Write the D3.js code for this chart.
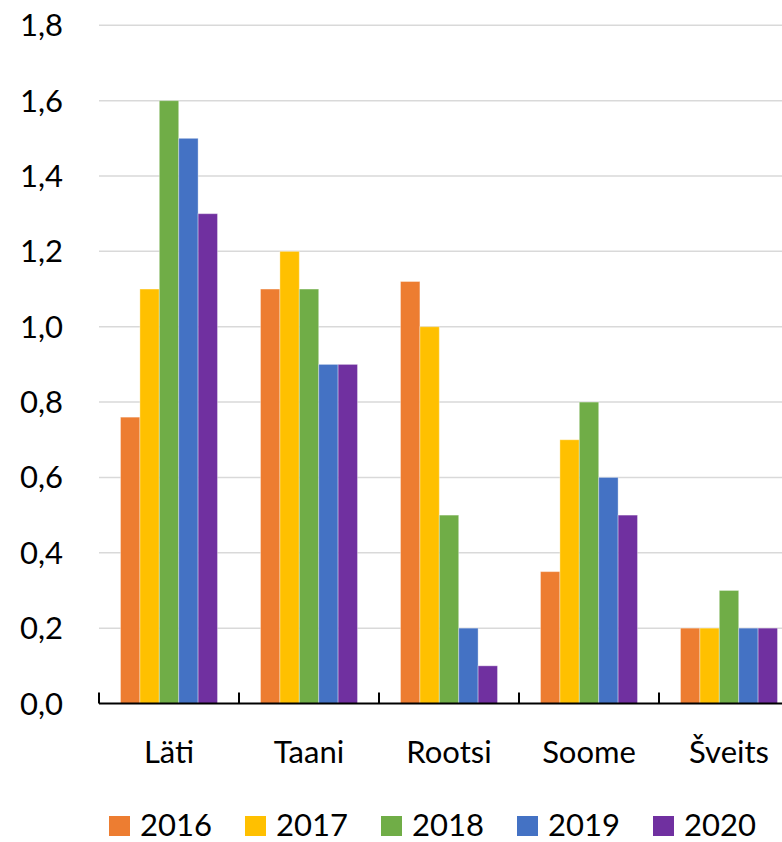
<!DOCTYPE html>
<html>
<head>
<meta charset="utf-8">
<script src="https://cdn.jsdelivr.net/npm/d3@7"></script>
<style>
  html, body { margin: 0; padding: 0; background: #fff; }
  svg { display: block; }
  text { font-family: Lato, "Open Sans", sans-serif; fill: #000; }
</style>
</head>
<body>
<svg id="chart" width="782" height="842"></svg>
<script>
const categories = ["Läti", "Taani", "Rootsi", "Soome", "Šveits"];
const years = ["2016", "2017", "2018", "2019", "2020"];
const values2016 = [0.76, 1.1, 1.12, 0.35, 0.2];
const values2017 = [1.1, 1.2, 1.0, 0.7, 0.2];
const values2018 = [1.6, 1.1, 0.5, 0.8, 0.3];
const values2019 = [1.5, 0.9, 0.2, 0.6, 0.2];
const values2020 = [1.3, 0.9, 0.1, 0.5, 0.2];
const yTicks = [0, 0.2, 0.4, 0.6, 0.8, 1.0, 1.2, 1.4, 1.6, 1.8];
const colors = ["#ED7D31", "#FFC000", "#70AD47", "#4472C4", "#7030A0"];

const seriesValues = [values2016, values2017, values2018, values2019, values2020];

(function () {
const svg = d3.select("#chart");
const mLeft = 99, mRight = 799, mTop = 25.3, mBottom = 703.5;

const x0 = d3.scaleBand().domain(categories).range([mLeft, mRight]).padding(0);
const x1 = d3.scaleBand().domain(years).range([21.5, 118.5]).padding(0);
const y = d3.scaleLinear().domain([0, 1.8]).range([mBottom, mTop]);

const fmt = v => d3.format(".1f")(v).replace(".", ",");

// gridlines
svg.append("g")
  .selectAll("line")
  .data(yTicks.filter(t => t > 0))
  .join("line")
  .attr("x1", mLeft).attr("x2", 782)
  .attr("y1", d => y(d)).attr("y2", d => y(d))
  .attr("stroke", "#d9d9d9").attr("stroke-width", 1.5);

// y labels
svg.append("g")
  .selectAll("text")
  .data(yTicks)
  .join("text")
  .attr("x", 63)
  .attr("y", d => y(d) + 11)
  .attr("text-anchor", "end")
  .attr("font-size", 31)
  .text(fmt);

// bars
const groups = svg.append("g")
  .selectAll("g")
  .data(categories)
  .join("g")
  .attr("transform", d => `translate(${x0(d)},0)`);

groups.selectAll("rect")
  .data((c, ci) => years.map((yr, si) => ({ yr, si, v: seriesValues[si][ci] })))
  .join("rect")
  .attr("x", d => x1(d.yr))
  .attr("width", x1.bandwidth())
  .attr("y", d => y(d.v))
  .attr("height", d => y(0) - y(d.v))
  .attr("fill", d => colors[d.si])
  .attr("stroke", "rgba(255,255,255,0.35)")
  .attr("stroke-width", 1);

// x axis
const xAxis = d3.axisBottom(x0).tickSize(0).tickFormat(d => d);
const axG = svg.append("g").attr("transform", `translate(0,${mBottom})`).call(xAxis);
axG.select(".domain").remove();
axG.selectAll("text")
  .attr("font-size", 31)
  .attr("font-family", "Lato, 'Open Sans', sans-serif")
  .attr("fill", "#000")
  .attr("dy", 0)
  .attr("y", 59);

svg.append("line")
  .attr("x1", mLeft).attr("x2", 782)
  .attr("y1", mBottom).attr("y2", mBottom)
  .attr("stroke", "#000").attr("stroke-width", 2);

const boundaries = categories.map(c => x0(c)).concat([mRight]);
svg.append("g")
  .selectAll("line")
  .data(boundaries)
  .join("line")
  .attr("x1", d => d).attr("x2", d => d)
  .attr("y1", mBottom).attr("y2", mBottom - 11)
  .attr("stroke", "#000").attr("stroke-width", 2);

// legend
const legend = svg.append("g")
  .selectAll("g")
  .data(years)
  .join("g")
  .attr("transform", (d, i) => `translate(${109 + i * 136},816)`);
legend.append("rect")
  .attr("width", 21).attr("height", 20)
  .attr("fill", (d, i) => colors[i]);
legend.append("text")
  .attr("x", 31).attr("y", 20)
  .attr("font-size", 31)
  .text(d => d);
})();
</script>
</body>
</html>
